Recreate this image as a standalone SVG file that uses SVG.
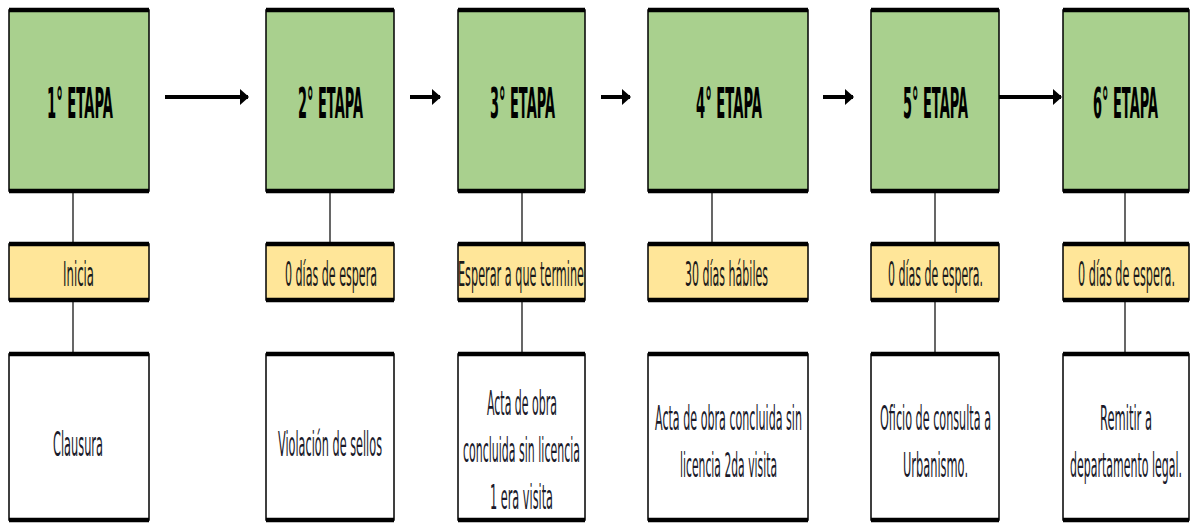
<svg xmlns="http://www.w3.org/2000/svg" width="1190" height="523" viewBox="0 0 1190 523">
<style>
.g{fill:#A9D08E;stroke:#000;stroke-width:1.5}
.y{fill:#FFE699;stroke:#000;stroke-width:1.5}
.w{fill:#FFFFFF;stroke:#000;stroke-width:1.5}
.bar{stroke:#000;stroke-width:4.5}
.t{font-family:"DejaVu Sans",Verdana,sans-serif;font-size:43px;font-weight:bold;fill:#000;text-anchor:middle}
.l{font-family:"DejaVu Sans",Verdana,sans-serif;font-size:33px;fill:#1a1a1a;text-anchor:middle}
.d{font-family:"DejaVu Sans",Verdana,sans-serif;font-size:34px;fill:#1a1a2a;text-anchor:middle}
.c{stroke:#000;stroke-width:1.2;fill:none}
.a{stroke:#000;stroke-width:4;fill:none}
</style>
<defs>
<marker id="ah" markerUnits="userSpaceOnUse" markerWidth="10" markerHeight="16" refX="8" refY="8" orient="auto">
<path d="M0,0 L9,8 L0,16 Z" fill="#000"/>
</marker>
</defs>
<g id="connectors">
<line class="a" x1="165" y1="97" x2="248" y2="97" marker-end="url(#ah)"/>
<line class="a" x1="410" y1="97" x2="440" y2="97" marker-end="url(#ah)"/>
<line class="a" x1="601" y1="97" x2="630" y2="97" marker-end="url(#ah)"/>
<line class="a" x1="823" y1="97" x2="853" y2="97" marker-end="url(#ah)"/>
<line class="a" x1="999" y1="97" x2="1061" y2="97" marker-end="url(#ah)"/>
<line class="c" x1="73" y1="193" x2="73" y2="242"/>
<line class="c" x1="73" y1="302" x2="73" y2="352"/>
<line class="c" x1="330" y1="193" x2="330" y2="242"/>
<line class="c" x1="522" y1="193" x2="522" y2="242"/>
<line class="c" x1="522" y1="302" x2="522" y2="352"/>
<line class="c" x1="712" y1="193" x2="712" y2="242"/>
<line class="c" x1="935" y1="193" x2="935" y2="242"/>
<line class="c" x1="935" y1="302" x2="935" y2="352"/>
<line class="c" x1="1125" y1="193" x2="1125" y2="242"/>
<line class="c" x1="1125" y1="302" x2="1125" y2="352"/>
</g>
<g id="etapa1">
<rect class="g" x="9" y="10" width="140" height="181"/>
<line class="bar" x1="9" y1="10" x2="149" y2="10"/><line class="bar" x1="9" y1="191" x2="149" y2="191"/>
<text class="t" x="80" y="118" textLength="66" lengthAdjust="spacingAndGlyphs">1° ETAPA</text>
</g>
<g id="etapa2">
<rect class="g" x="266" y="10" width="128" height="181"/>
<line class="bar" x1="266" y1="10" x2="394" y2="10"/><line class="bar" x1="266" y1="191" x2="394" y2="191"/>
<text class="t" x="330.5" y="118" textLength="65" lengthAdjust="spacingAndGlyphs">2° ETAPA</text>
</g>
<g id="etapa3">
<rect class="g" x="458" y="10" width="127" height="181"/>
<line class="bar" x1="458" y1="10" x2="585" y2="10"/><line class="bar" x1="458" y1="191" x2="585" y2="191"/>
<text class="t" x="522.5" y="118" textLength="65" lengthAdjust="spacingAndGlyphs">3° ETAPA</text>
</g>
<g id="etapa4">
<rect class="g" x="648" y="10" width="160" height="181"/>
<line class="bar" x1="648" y1="10" x2="808" y2="10"/><line class="bar" x1="648" y1="191" x2="808" y2="191"/>
<text class="t" x="729" y="118" textLength="66" lengthAdjust="spacingAndGlyphs">4° ETAPA</text>
</g>
<g id="etapa5">
<rect class="g" x="871" y="10" width="128" height="181"/>
<line class="bar" x1="871" y1="10" x2="999" y2="10"/><line class="bar" x1="871" y1="191" x2="999" y2="191"/>
<text class="t" x="935.5" y="118" textLength="65" lengthAdjust="spacingAndGlyphs">5° ETAPA</text>
</g>
<g id="etapa6">
<rect class="g" x="1063" y="10" width="126" height="181"/>
<line class="bar" x1="1063" y1="10" x2="1189" y2="10"/><line class="bar" x1="1063" y1="191" x2="1189" y2="191"/>
<text class="t" x="1125.5" y="118" textLength="65" lengthAdjust="spacingAndGlyphs">6° ETAPA</text>
</g>
<g id="espera1">
<rect class="y" x="9" y="244" width="140" height="56"/>
<line class="bar" x1="9" y1="244" x2="149" y2="244"/><line class="bar" x1="9" y1="300" x2="149" y2="300"/>
<text class="l" x="78.5" y="286" textLength="31" lengthAdjust="spacingAndGlyphs">Inicia</text>
</g>
<g id="espera2">
<rect class="y" x="266" y="244" width="128" height="56"/>
<line class="bar" x1="266" y1="244" x2="394" y2="244"/><line class="bar" x1="266" y1="300" x2="394" y2="300"/>
<text class="l" x="331" y="286" textLength="92" lengthAdjust="spacingAndGlyphs">0 días de espera</text>
</g>
<g id="espera3">
<rect class="y" x="458" y="244" width="127" height="56"/>
<line class="bar" x1="458" y1="244" x2="585" y2="244"/><line class="bar" x1="458" y1="300" x2="585" y2="300"/>
<text class="l" x="521" y="286" textLength="126" lengthAdjust="spacingAndGlyphs">Esperar a que termine</text>
</g>
<g id="espera4">
<rect class="y" x="648" y="244" width="160" height="56"/>
<line class="bar" x1="648" y1="244" x2="808" y2="244"/><line class="bar" x1="648" y1="300" x2="808" y2="300"/>
<text class="l" x="726.5" y="286" textLength="83" lengthAdjust="spacingAndGlyphs">30 días hábiles</text>
</g>
<g id="espera5">
<rect class="y" x="871" y="244" width="128" height="56"/>
<line class="bar" x1="871" y1="244" x2="999" y2="244"/><line class="bar" x1="871" y1="300" x2="999" y2="300"/>
<text class="l" x="935.5" y="286" textLength="95" lengthAdjust="spacingAndGlyphs">0 días de espera.</text>
</g>
<g id="espera6">
<rect class="y" x="1063" y="244" width="126" height="56"/>
<line class="bar" x1="1063" y1="244" x2="1189" y2="244"/><line class="bar" x1="1063" y1="300" x2="1189" y2="300"/>
<text class="l" x="1126.5" y="286" textLength="97" lengthAdjust="spacingAndGlyphs">0 días de espera.</text>
</g>
<g id="accion1">
<rect class="w" x="9" y="354" width="140" height="166"/>
<line class="bar" x1="9" y1="354" x2="149" y2="354"/><line class="bar" x1="9" y1="520" x2="149" y2="520"/>
<text class="d" x="78" y="456" textLength="50" lengthAdjust="spacingAndGlyphs">Clausura</text>
</g>
<g id="accion2">
<rect class="w" x="266" y="354" width="128" height="166"/>
<line class="bar" x1="266" y1="354" x2="394" y2="354"/><line class="bar" x1="266" y1="520" x2="394" y2="520"/>
<text class="d" x="330" y="456" textLength="104" lengthAdjust="spacingAndGlyphs">Violación de sellos</text>
</g>
<g id="accion3">
<rect class="w" x="458" y="354" width="127" height="166"/>
<line class="bar" x1="458" y1="354" x2="585" y2="354"/><line class="bar" x1="458" y1="520" x2="585" y2="520"/>
<text class="d" x="522" y="415" textLength="70" lengthAdjust="spacingAndGlyphs">Acta de obra</text>
<text class="d" x="521.5" y="462" textLength="117" lengthAdjust="spacingAndGlyphs">concluida sin licencia</text>
<text class="d" x="521.5" y="509" textLength="63" lengthAdjust="spacingAndGlyphs">1 era visita</text>
</g>
<g id="accion4">
<rect class="w" x="648" y="354" width="160" height="166"/>
<line class="bar" x1="648" y1="354" x2="808" y2="354"/><line class="bar" x1="648" y1="520" x2="808" y2="520"/>
<text class="d" x="728.5" y="430" textLength="147" lengthAdjust="spacingAndGlyphs">Acta de obra concluida sin</text>
<text class="d" x="728.5" y="477" textLength="97" lengthAdjust="spacingAndGlyphs">licencia 2da visita</text>
</g>
<g id="accion5">
<rect class="w" x="871" y="354" width="128" height="166"/>
<line class="bar" x1="871" y1="354" x2="999" y2="354"/><line class="bar" x1="871" y1="520" x2="999" y2="520"/>
<text class="d" x="935.5" y="430" textLength="111" lengthAdjust="spacingAndGlyphs">Oficio de consulta a</text>
<text class="d" x="935.5" y="477" textLength="65" lengthAdjust="spacingAndGlyphs">Urbanismo.</text>
</g>
<g id="accion6">
<rect class="w" x="1063" y="354" width="126" height="166"/>
<line class="bar" x1="1063" y1="354" x2="1189" y2="354"/><line class="bar" x1="1063" y1="520" x2="1189" y2="520"/>
<text class="d" x="1126" y="430" textLength="52" lengthAdjust="spacingAndGlyphs">Remitir a</text>
<text class="d" x="1126" y="477" textLength="112" lengthAdjust="spacingAndGlyphs">departamento legal.</text>
</g>
</svg>
